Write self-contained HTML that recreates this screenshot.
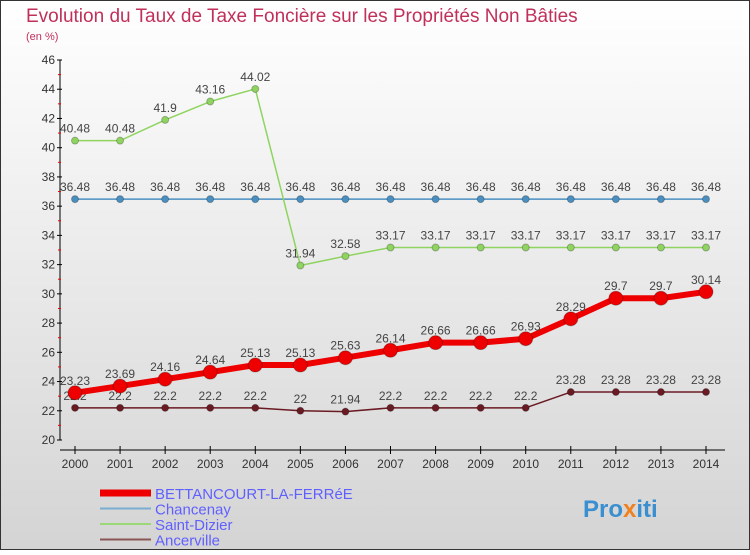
<!DOCTYPE html>
<html><head><meta charset="utf-8"><style>
body{margin:0;width:750px;height:550px;overflow:hidden;font-family:"Liberation Sans",sans-serif}
</style></head><body>
<svg id="c" width="750" height="550" xmlns="http://www.w3.org/2000/svg">
<defs><linearGradient id="bg" x1="0" y1="0" x2="0" y2="1"><stop offset="0" stop-color="#ffffff"/><stop offset="1" stop-color="#d4d4d4"/></linearGradient></defs>
<rect x="0.5" y="0.5" width="749" height="549" fill="url(#bg)" stroke="#333"/>
<text x="26" y="22" font-size="19" fill="#c0305a">Evolution du Taux de Taxe Foncière sur les Propriétés Non Bâties</text>
<text x="26" y="40" font-size="11" fill="#c0305a">(en %)</text>
<g id="axes"></g><g id="series"></g><g id="legend"></g>
<text x="583" y="517" font-size="24" font-weight="bold" fill="#3a8fd0">Pro<tspan fill="#f08020">x</tspan>iti</text>
</svg>
<script>
const years=[2000,2001,2002,2003,2004,2005,2006,2007,2008,2009,2010,2011,2012,2013,2014];
const yTicks=[20,22,24,26,28,30,32,34,36,38,40,42,44,46];
const bettancourt=[23.23,23.69,24.16,24.64,25.13,25.13,25.63,26.14,26.66,26.66,26.93,28.29,29.7,29.7,30.14];
const chancenay=[36.48,36.48,36.48,36.48,36.48,36.48,36.48,36.48,36.48,36.48,36.48,36.48,36.48,36.48,36.48];
const saintDizier=[40.48,40.48,41.9,43.16,44.02,31.94,32.58,33.17,33.17,33.17,33.17,33.17,33.17,33.17,33.17];
const ancerville=[22.2,22.2,22.2,22.2,22.2,22,21.94,22.2,22.2,22.2,22.2,23.28,23.28,23.28,23.28];
const NS="http://www.w3.org/2000/svg";
const x=i=>75+i*(631/14);
const y=v=>440-(v-20)*(380/26);
function mk(t,a,p){const e=document.createElementNS(NS,t);for(const k in a)e.setAttribute(k,a[k]);p.appendChild(e);return e;}
const ax=document.getElementById('axes');
let e=mk('line',{x1:60,y1:60,x2:60,y2:440,stroke:'#000'},ax);


e=mk('line',{x1:60,y1:450,x2:725,y2:450,stroke:'#000'},ax);


yTicks.forEach(v=>{
 mk('line',{x1:57,y1:y(v),x2:62,y2:y(v),stroke:'#000'},ax);
 if(v<46)mk('line',{x1:58,y1:y(v+1),x2:61,y2:y(v+1),stroke:'#e00'},ax);
 const t=mk('text',{x:55,y:y(v)+4,'font-size':12,fill:'#333','text-anchor':'end'},ax);t.textContent=v;
 
 
});
years.forEach((yr,i)=>{
 mk('line',{x1:x(i),y1:446,x2:x(i),y2:454,stroke:'#000'},ax);
 const t=mk('text',{x:x(i),y:468,'font-size':12,fill:'#333','text-anchor':'middle'},ax);t.textContent=yr;
 
 
});
const sg=document.getElementById('series');
function series(vals,color,w,r,name){
 const g=mk('g',{},sg);
 
 
 const pl=mk('polyline',{points:vals.map((v,i)=>x(i)+','+y(v)).join(' '),fill:'none',stroke:color,'stroke-width':w,'stroke-linejoin':'round'},g);
 
 
 vals.forEach((v,i)=>{
  const c=mk('circle',{cx:x(i),cy:y(v),r:r,fill:color,stroke:'rgba(0,0,0,0.25)'},g);
  
  
  const t=mk('text',{x:x(i),y:y(v)-8,'font-size':12,fill:'#444','text-anchor':'middle'},g);t.textContent=v;
  
  
 });
}
series(chancenay,'#4a8fc0',1.5,3.5,'chancenay');
series(saintDizier,'#8fd460',1.5,3.5,'saint-dizier');
series(ancerville,'#6a1a22',1.5,3.5,'ancerville');
series(bettancourt,'#ee0000',6,7,'bettancourt');
const lg=document.getElementById('legend');
const items=[['BETTANCOURT-LA-FERRéE','#ee0000',7],['Chancenay','#7aaed0',2],['Saint-Dizier','#9ad878',2],['Ancerville','#8a5555',2]];
items.forEach((it,i)=>{
 const yy=493+i*15.5;
 const g=mk('g',{},lg);
 
 
 mk('line',{x1:100,y1:yy,x2:151,y2:yy,stroke:it[1],'stroke-width':it[2]},g);
 const t=mk('text',{x:155,y:yy+6,'font-size':15,fill:'#6060ff'},g);t.textContent=it[0];
});
</script>
</body></html>
